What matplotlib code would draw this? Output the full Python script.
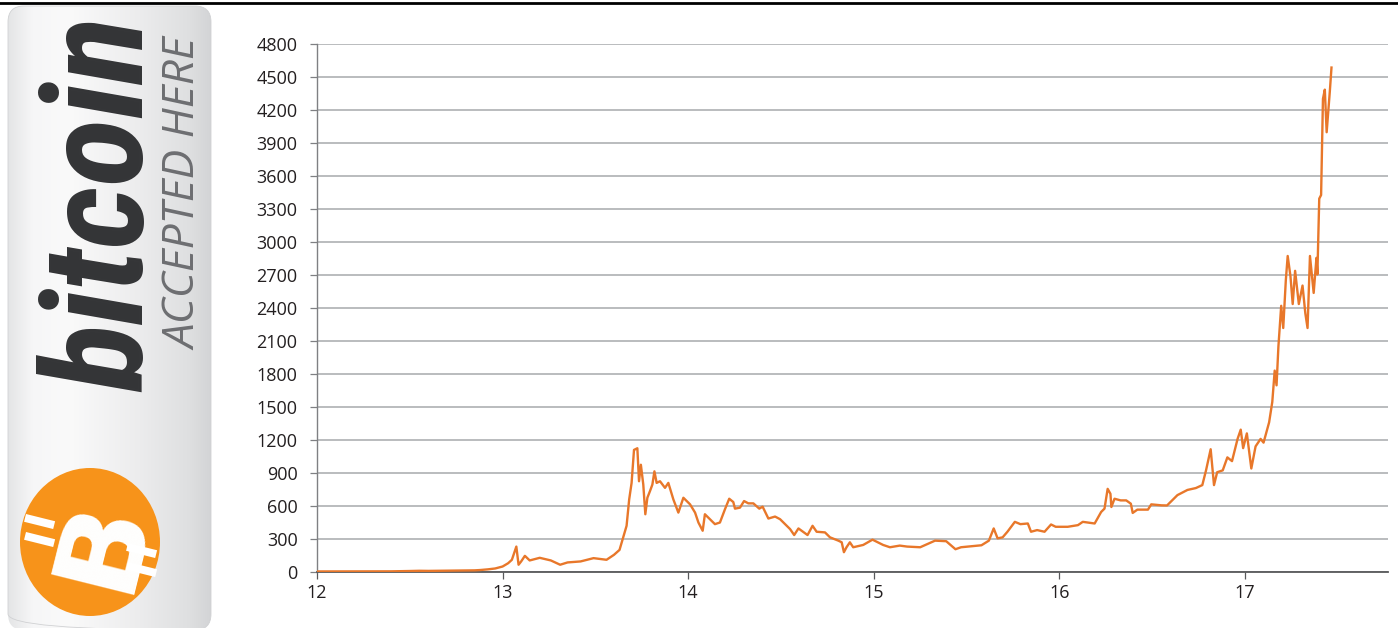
import numpy as np
import matplotlib
matplotlib.use("Agg")
import matplotlib.pyplot as plt
import matplotlib.font_manager as fm
from matplotlib.patches import FancyBboxPatch, Ellipse, Polygon
from matplotlib.lines import Line2D
from matplotlib.colors import LinearSegmentedColormap

# ---------------- data ----------------
years = [12.00, 12.10, 12.20, 12.30, 12.40, 12.45, 12.50, 12.55, 12.60, 12.70,
         12.80, 12.85, 12.88, 12.92, 12.96, 13.00, 13.03, 13.05, 13.074, 13.086,
         13.10, 13.12, 13.146, 13.20, 13.26, 13.31, 13.35, 13.42, 13.49, 13.56,
         13.60, 13.63, 13.650, 13.668, 13.682, 13.695, 13.708, 13.726, 13.735, 13.745,
         13.758, 13.769, 13.78, 13.794, 13.807, 13.818, 13.83, 13.848, 13.875, 13.893,
         13.92, 13.947, 13.974, 14.010, 14.037, 14.055, 14.078, 14.09, 14.117, 14.144,
         14.171, 14.198, 14.221, 14.243, 14.252, 14.279, 14.301, 14.324, 14.351, 14.383,
         14.401, 14.432, 14.468, 14.495, 14.522, 14.549, 14.571, 14.594, 14.643, 14.67,
         14.692, 14.737, 14.764, 14.809, 14.827, 14.839, 14.853, 14.871, 14.889, 14.943,
         14.993, 15.05, 15.087, 15.14, 15.18, 15.25, 15.33, 15.39, 15.44, 15.47,
         15.505, 15.58, 15.62, 15.646, 15.667, 15.694, 15.72, 15.76, 15.79, 15.83,
         15.847, 15.88, 15.92, 15.955, 15.98, 16.045, 16.10, 16.126, 16.19, 16.225,
         16.243, 16.26, 16.275, 16.28, 16.297, 16.33, 16.36, 16.385, 16.395, 16.42,
         16.477, 16.495, 16.55, 16.58, 16.636, 16.69, 16.735, 16.77, 16.79, 16.815,
         16.833, 16.85, 16.88, 16.905, 16.93, 16.96, 16.977, 16.99, 17.01, 17.034,
         17.057, 17.084, 17.10, 17.13, 17.147, 17.16, 17.17, 17.18, 17.195, 17.206,
         17.22, 17.23, 17.245, 17.257, 17.27, 17.29, 17.31, 17.325, 17.337, 17.35,
         17.37, 17.385, 17.39, 17.40, 17.41, 17.42, 17.43, 17.44, 17.457, 17.466]
prices = [5, 5, 5, 5, 6, 7, 9, 11, 10, 12,
          13, 15, 18, 24, 32, 50, 80, 111, 231, 66,
          96, 147, 105, 129, 105, 66, 87, 96, 126, 111,
          156, 201, 315, 420, 660, 810, 1110, 1125, 825, 975,
          795, 525, 675, 735, 795, 915, 810, 825, 765, 810,
          660, 540, 675, 615, 540, 450, 375, 525, 480, 435,
          450, 570, 666, 636, 576, 585, 645, 624, 624, 576,
          594, 486, 504, 480, 435, 390, 336, 396, 336, 420,
          366, 360, 315, 285, 270, 180, 225, 270, 225, 246,
          294, 246, 225, 240, 231, 225, 285, 280, 207, 225,
          231, 243, 285, 396, 306, 315, 366, 456, 435, 441,
          366, 381, 366, 432, 411, 411, 426, 456, 441, 546,
          576, 756, 711, 591, 666, 651, 651, 621, 537, 567,
          567, 615, 606, 605, 699, 746, 763, 790, 924, 1116,
          790, 907, 924, 1042, 1008, 1210, 1294, 1126, 1260, 941,
          1142, 1210, 1176, 1361, 1546, 1831, 1697, 2050, 2420, 2218,
          2654, 2873, 2688, 2436, 2738, 2436, 2604, 2352, 2218, 2873,
          2537, 2856, 2705, 3394, 3427, 4301, 4385, 3998, 4368, 4586]
y_ticks = list(range(0, 4801, 300))
x_ticks = [12, 13, 14, 15, 16, 17]
x_tick_labels = ["12", "13", "14", "15", "16", "17"]
logo_word = "bitcoin"
logo_tagline = "ACCEPTED HERE"
logo_symbol = "B"

W, H = 1398, 628
fig = plt.figure(figsize=(W / 100, H / 100), dpi=100)
fig.patch.set_facecolor("white")

names = {f.name for f in fm.fontManager.ttflist}
tick_font = "Open Sans" if "Open Sans" in names else "DejaVu Sans"

# ---------------- chart ----------------
ax = fig.add_axes([317 / W, 1 - 572 / H, (1388 - 317) / W, (572 - 44) / H])
ax.plot(years, prices, color="#E8772A", lw=1.7, solid_joinstyle="round", zorder=3)
ax.set_xlim(12, 12 + (1388 - 317) / 185.6)
ax.set_ylim(0, 4800)
ax.set_yticks(y_ticks)
ax.set_yticklabels([str(v) for v in y_ticks])
ax.set_xticks(x_ticks)
ax.set_xticklabels(x_tick_labels)
ax.grid(axis="y", color="#a7a9ac", lw=1.1)
ax.set_axisbelow(True)
for s in ("top", "right"):
    ax.spines[s].set_visible(False)
ax.spines["left"].set_color("#7f8083")
ax.spines["left"].set_linewidth(1.0)
ax.spines["bottom"].set_color("#58595b")
ax.spines["bottom"].set_linewidth(1.3)
ax.tick_params(axis="y", direction="out", length=5, width=0.9, color="#7f8083",
               pad=9, labelsize=13, labelcolor="#231f20")
ax.tick_params(axis="x", direction="out", length=5, width=0.9, color="#58595b",
               pad=4, labelsize=13, labelcolor="#231f20")
for lab in ax.get_xticklabels() + ax.get_yticklabels():
    lab.set_family(tick_font)

# top black rule
fig.add_artist(Line2D([0, 1], [1 - 3 / H, 1 - 3 / H], transform=fig.transFigure,
                      color="black", lw=2.0))

# ---------------- logo ----------------
lx = fig.add_axes([0, 0, 230 / W, 1 - 5 / H])
lx.set_xlim(0, 230)
lx.set_ylim(628, 5)
lx.axis("off")

box = FancyBboxPatch((8, 6), 203, 624, boxstyle="round,pad=0,rounding_size=16",
                     facecolor="none", edgecolor="#d0d1d3", lw=0.6, zorder=1)
lx.add_patch(box)
grad_cmap = LinearSegmentedColormap.from_list(
    "g", [(0, "#e4e5e6"), (0.12, "#f6f6f7"), (0.3, "#fafafa"), (0.65, "#ececed"),
          (0.9, "#dedfe0"), (1.0, "#d3d4d6")])
grad = np.linspace(0, 1, 256)[None, :]
im = lx.imshow(grad, cmap=grad_cmap, extent=(8, 211, 630, 6), aspect="auto", zorder=0)
im.set_clip_path(box)
lx.set_xlim(0, 230)
lx.set_ylim(628, 5)


def pick_narrow():
    for nm in ("Liberation Sans Narrow", "Roboto Condensed", "Open Sans Condensed"):
        if nm in names:
            return dict(family=nm, stretch="normal")
    for f in fm.fontManager.ttflist:
        if f.name == "DejaVu Sans" and "ondensed" in str(f.stretch) + f.fname:
            return dict(family="DejaVu Sans", stretch="condensed")
    return dict(family="Liberation Sans", stretch="normal")


nf = pick_narrow()
fig.canvas.draw()
renderer = fig.canvas.get_renderer()


def fit(t, target_len):
    bb = t.get_window_extent(renderer)
    t.set_fontsize(t.get_fontsize() * target_len / bb.height)


t_word = lx.text(143, 392, logo_word, rotation=90, rotation_mode="anchor",
                 ha="left", va="baseline", color="#333436", fontsize=100,
                 family=nf["family"], fontstretch=nf["stretch"],
                 fontweight="bold", fontstyle="italic", zorder=3)
fit(t_word, 376)

t_tag = lx.text(196, 350, logo_tagline, rotation=90, rotation_mode="anchor",
                ha="left", va="baseline", color="#6d6e71", fontsize=26,
                family=tick_font, fontweight="normal", fontstyle="italic", zorder=3)
fit(t_tag, 312)

# coin
lx.add_patch(Ellipse((90, 542), 140, 148, facecolor="#F7931A", edgecolor="none", zorder=2))
ang = np.radians(14)
dx, dy = np.cos(ang), np.sin(ang)
nx, ny = -dy, dx
for (x0, y0, L) in [(26, 514, 30), (26, 532, 30), (128, 543, 30), (128, 562, 30)]:
    T = 8
    pts = [(x0, y0), (x0 + L * dx, y0 + L * dy),
           (x0 + L * dx + T * nx, y0 + L * dy + T * ny), (x0 + T * nx, y0 + T * ny)]
    lx.add_patch(Polygon(pts, closed=True, facecolor="white", edgecolor="none", zorder=3))
lx.text(103, 544, logo_symbol, rotation=76, rotation_mode="anchor", ha="center",
        va="center", color="white", fontsize=84, family="DejaVu Sans",
        fontweight="bold", zorder=4)

fig.savefig("out.png", dpi=100, facecolor="white")
